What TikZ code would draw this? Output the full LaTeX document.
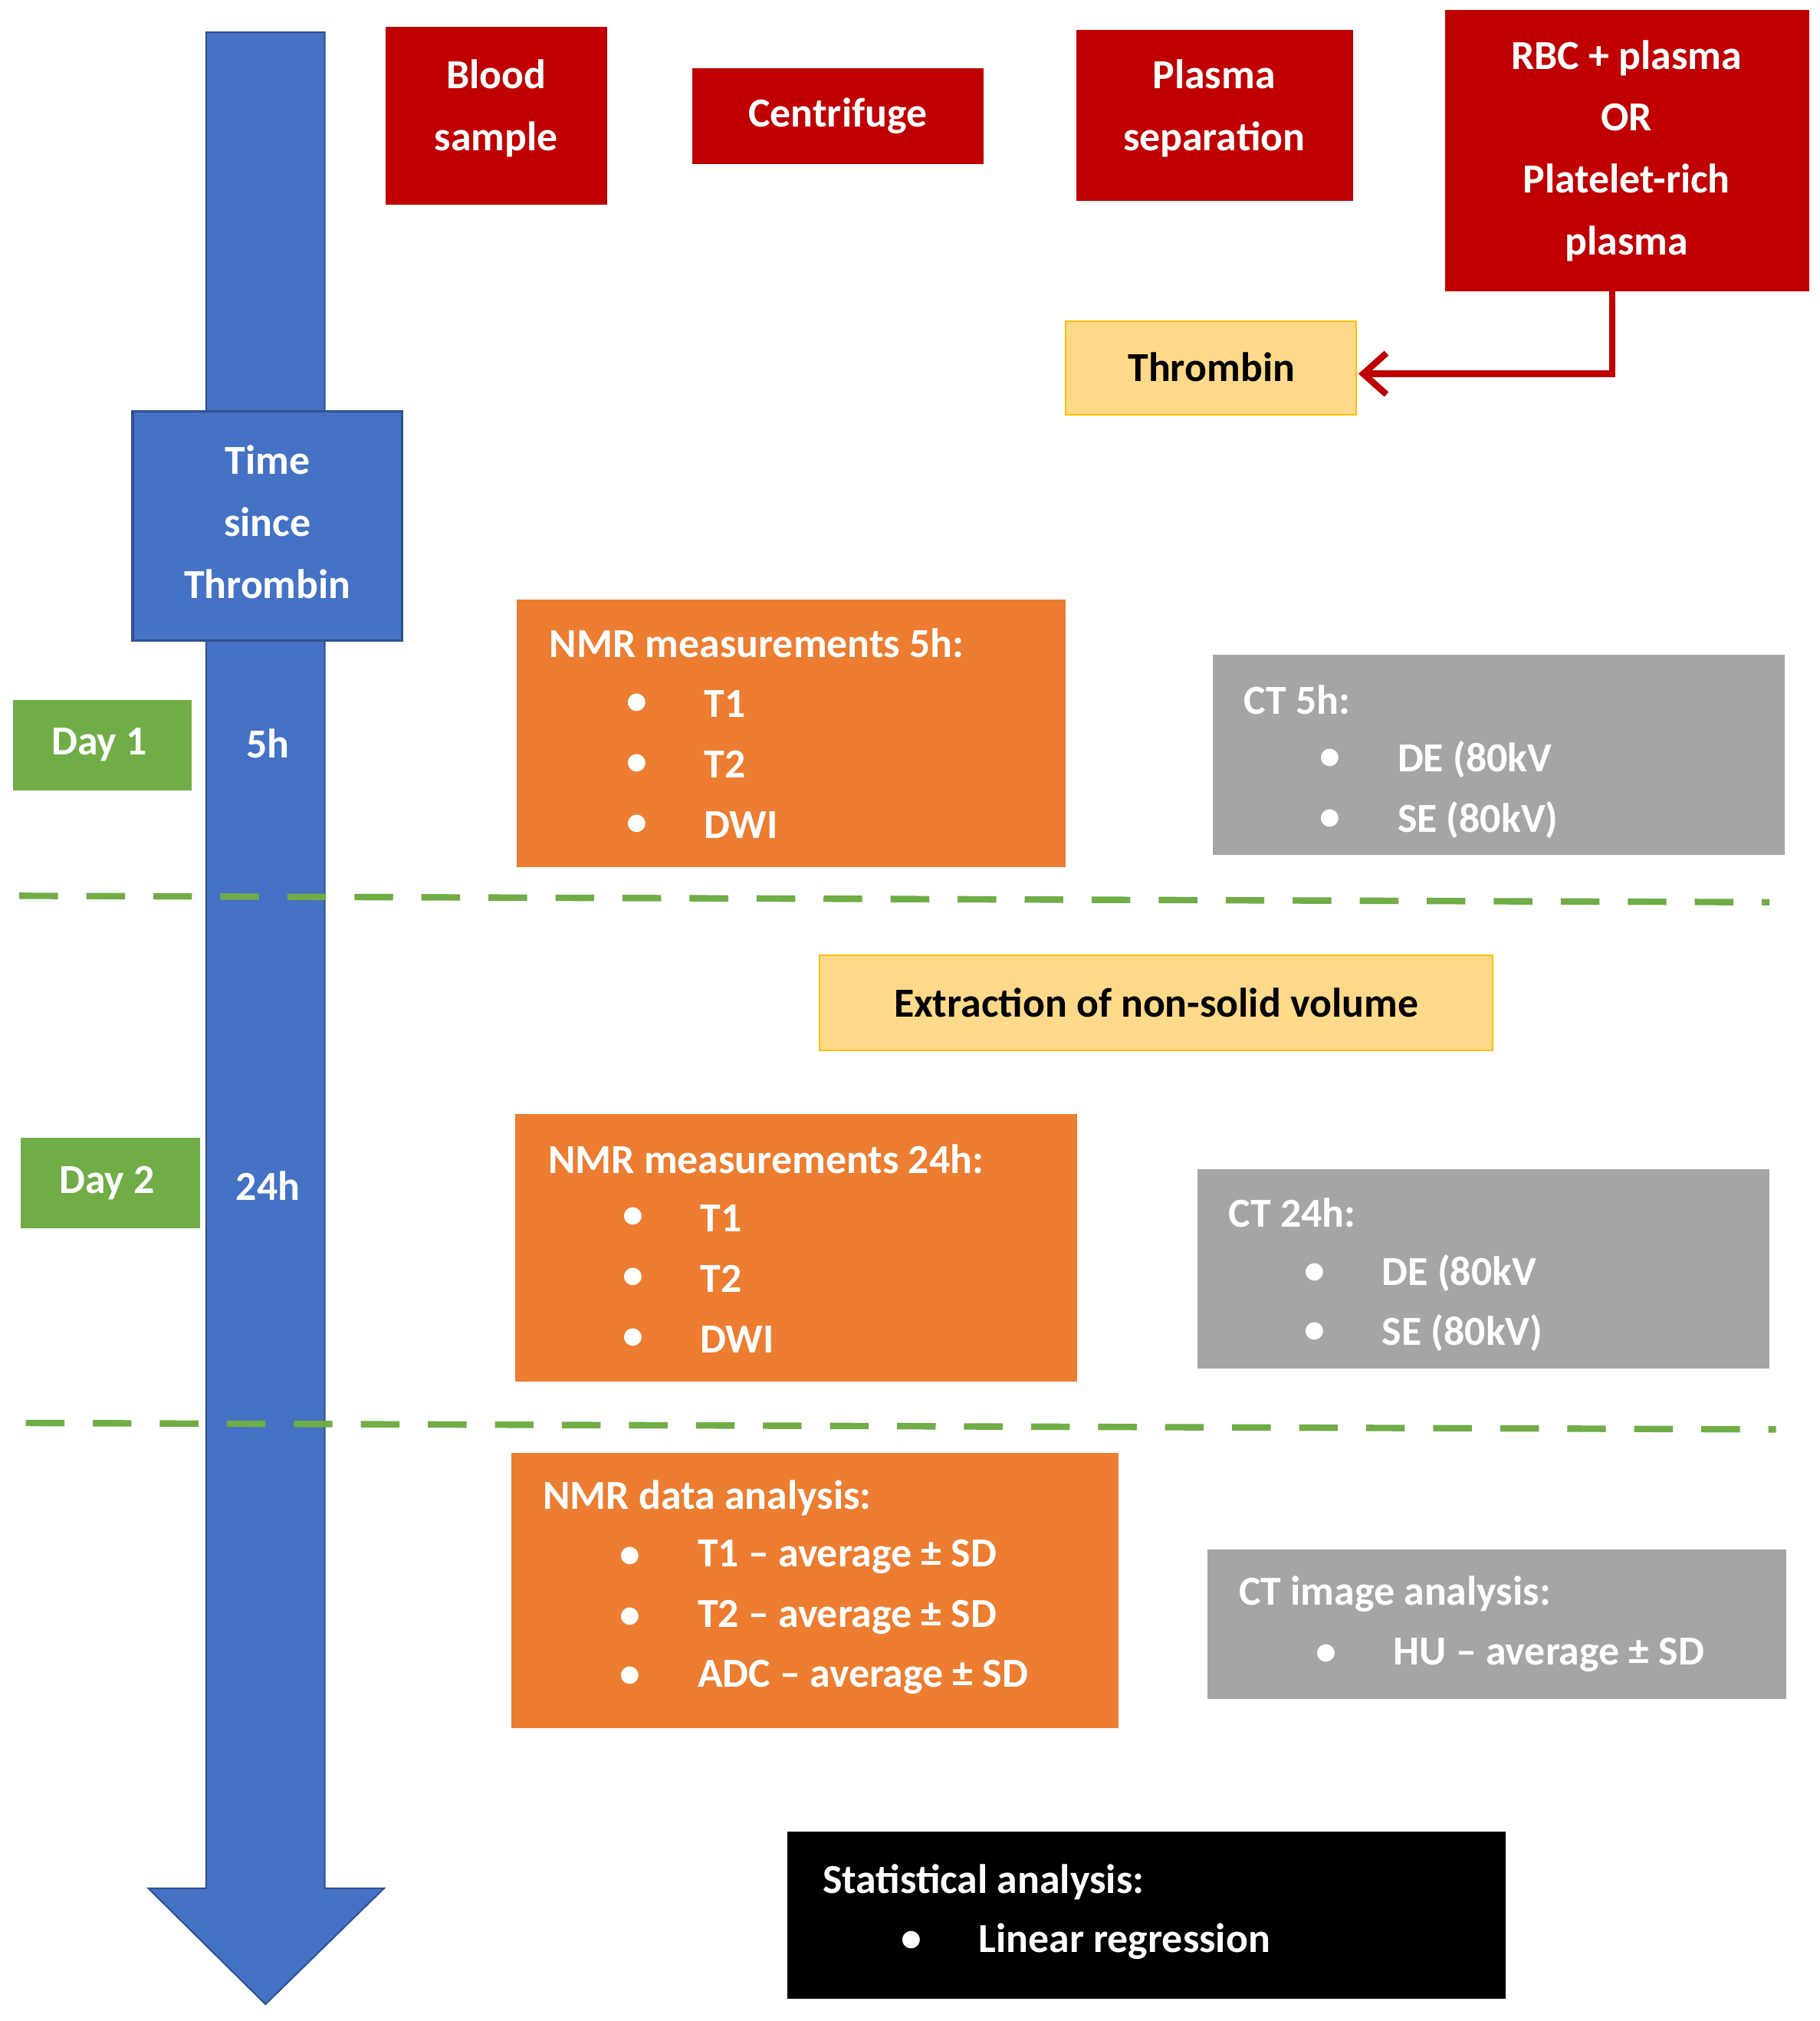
\documentclass[tikz,border=0pt]{standalone}
\usepackage{fontspec}
\setmainfont{Carlito}
\usetikzlibrary{arrows.meta}
\definecolor{cred}{HTML}{C00000}
\definecolor{corange}{HTML}{ED7D31}
\definecolor{cgray}{HTML}{A5A5A5}
\definecolor{cgreen}{HTML}{70AD47}
\definecolor{cblue}{HTML}{4472C4}
\definecolor{cbluedark}{HTML}{2F528F}
\definecolor{cyel}{HTML}{FFD98A}
\definecolor{cyelb}{HTML}{FFC000}
\begin{document}
\begin{tikzpicture}[x=0.5pt,y=-0.5pt,
  txt/.style={font=\fontsize{16}{19}\selectfont\bfseries,text=white,inner sep=0pt},
  ctxt/.style={txt,align=center},
  ltxt/.style={txt,anchor=west},
  dayline/.style={cgreen,line width=2.5pt,dash pattern=on 15pt off 11pt}]
\useasboundingbox (0,0) rectangle (1412,1568);
% timeline arrow
\fill[cblue] (160,25) -- (252,25) -- (252,1465) -- (298,1465) -- (206,1555) -- (115,1465) -- (160,1465) -- cycle;
\draw[cbluedark,line width=0.6pt] (160,25) -- (252,25) -- (252,1465) -- (298,1465) -- (206,1555) -- (115,1465) -- (160,1465) -- cycle;
\draw[fill=cblue,draw=cbluedark,line width=1pt] (103,319) rectangle (312,497);
\node[ctxt,text width=100pt] (time) at (207.5,405) {Time\\[5pt]since\\[5pt]Thrombin};
% top red boxes
\fill[cred] (299,21) rectangle (471,159);
\node[ctxt] (blood) at (385,84) {Blood\\[5pt]sample};
\fill[cred] (537,53) rectangle (763,127);
\node[ctxt] (centr) at (650,90) {Centrifuge};
\fill[cred] (835,23) rectangle (1050,156);
\node[ctxt] (plasma) at (942,84) {Plasma\\[5pt]separation};
\fill[cred] (1121,8) rectangle (1404,226);
\node[ctxt] (rbc) at (1262,117) {RBC + plasma\\[5pt]OR\\[5pt]Platelet-rich\\[5pt]plasma};
\coordinate (rbcb) at (1251,226);
\draw[fill=cyel,draw=cyelb,line width=0.6pt] (827,249) rectangle (1052,322);
\node[txt,text=black] (thr) at (940,285) {Thrombin};
\coordinate (thre) at (1054,290);
\draw[cred,line width=2.5pt,-{Straight Barb[length=9pt,width=16pt]}] (rbcb) |- (thre);
% Day 1
\fill[cgreen] (10,543) rectangle (149,613);
\node[txt] (d1) at (77,578) {Day 1};
\node[txt] (h5) at (208,577) {5h};
\fill[corange] (401,465) rectangle (827,673);
\node[ltxt] (n5) at (426,499) {NMR measurements 5h:};
\foreach \y/\t in {546/T1,593/T2,640/DWI}{\node[txt] at (494,\y) {\textbullet}; \node[ltxt] at (546,\y) {\t};}
\fill[cgray] (941,508) rectangle (1385,663);
\node[ltxt] (c5) at (965,543) {CT 5h:};
\foreach \y/\t in {589/DE (80kV/140 kV),636/SE (80kV)}{\node[txt] at (1032,\y) {\textbullet}; \node[ltxt] at (1084,\y) {\t};}
\coordinate (da1) at (15,695); \coordinate (db1) at (1373,700);
\draw[dayline] (da1) -- (db1);
\draw[fill=cyel,draw=cyelb,line width=0.6pt] (636,741) rectangle (1158,815);
\node[txt,text=black] (ext) at (897,778) {Extraction of non-solid volume};
% Day 2
\fill[cgreen] (16,883) rectangle (155,953);
\node[txt] (d2) at (83,918) {Day 2};
\node[txt] (h24) at (208,920) {24h};
\fill[corange] (400,864) rectangle (836,1072);
\node[ltxt] (n24) at (425,899) {NMR measurements 24h:};
\foreach \y/\t in {945/T1,992/T2,1039/DWI}{\node[txt] at (491,\y) {\textbullet}; \node[ltxt] at (543,\y) {\t};}
\fill[cgray] (929,907) rectangle (1373,1062);
\node[ltxt] (c24) at (953,941) {CT 24h:};
\foreach \y/\t in {988/DE (80kV/140 kV),1034/SE (80kV)}{\node[txt] at (1020,\y) {\textbullet}; \node[ltxt] at (1072,\y) {\t};}
\coordinate (da2) at (20,1104); \coordinate (db2) at (1378,1109);
\draw[dayline] (da2) -- (db2);
% analysis
\fill[corange] (397,1127) rectangle (868,1341);
\node[ltxt] (na) at (421,1162) {NMR data analysis:};
\foreach \y/\t in {1208/T1 -- average ± SD,1255/T2 -- average ± SD,1301/ADC -- average ± SD}{\node[txt] at (489,\y) {\textbullet}; \node[ltxt] at (541,\y) {\t};}
\fill[cgray] (937,1202) rectangle (1386,1318);
\node[ltxt] (ca) at (961,1237) {CT image analysis:};
\node[txt] at (1029,1284) {\textbullet}; \node[ltxt] at (1081,1284) {HU -- average ± SD};
\fill[black] (611,1421) rectangle (1168,1551);
\node[ltxt] (st) at (638,1460) {Statistical analysis:};
\node[txt] at (707,1506) {\textbullet}; \node[ltxt] at (759,1506) {Linear regression};
\end{tikzpicture}
\end{document}
